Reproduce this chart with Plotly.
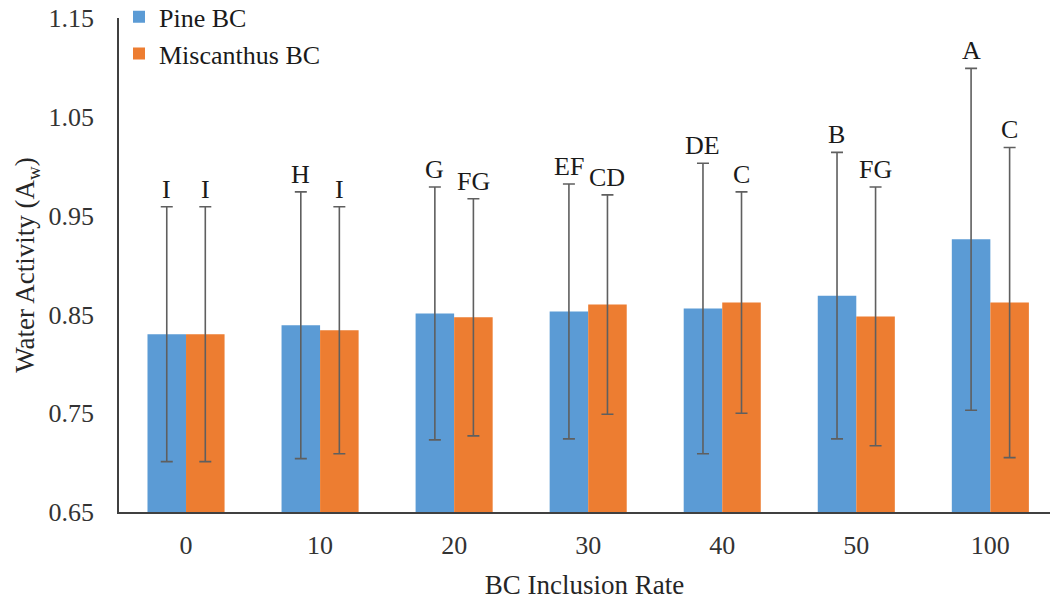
import plotly.graph_objects as go

# BC inclusion rates (%)
categories = ["0", "10", "20", "30", "40", "50", "100"]

# Mean water activity and standard deviation per series
pine_mean = [0.830, 0.839, 0.851, 0.853, 0.856, 0.869, 0.926]
pine_sd = [0.129, 0.135, 0.128, 0.129, 0.147, 0.145, 0.173]
misc_mean = [0.830, 0.834, 0.847, 0.860, 0.862, 0.848, 0.862]
misc_sd = [0.129, 0.125, 0.120, 0.111, 0.112, 0.131, 0.157]

# Significance letters
pine_letters = ["I", "H", "G", "EF", "DE", "B", "A"]
misc_letters = ["I", "I", "FG", "CD", "C", "FG", "C"]

y_ticks = [0.65, 0.75, 0.85, 0.95, 1.05, 1.15]

BLUE = "#5B9BD5"
ORANGE = "#ED7D31"
ERR = "#5f5f5f"
FONT = "Liberation Serif"

idx = list(range(len(categories)))

fig = go.Figure()
fig.add_trace(go.Bar(
    name="Pine BC", x=idx, y=pine_mean, marker_color=BLUE,
    marker_line_width=0,
    error_y=dict(type="data", array=pine_sd, visible=True,
                 color=ERR, thickness=1.6, width=6),
))
fig.add_trace(go.Bar(
    name="Miscanthus BC", x=idx, y=misc_mean, marker_color=ORANGE,
    marker_line_width=0,
    error_y=dict(type="data", array=misc_sd, visible=True,
                 color=ERR, thickness=1.6, width=6),
))

# Letters above each error bar
half = 19.3
for i, m, s, lab in zip(idx, pine_mean, pine_sd, pine_letters):
    fig.add_annotation(x=i, y=m + s, text=lab, showarrow=False,
                       xshift=-half, yshift=1, yanchor="bottom",
                       font=dict(family=FONT, size=26, color="#1a1a1a"))
for i, m, s, lab in zip(idx, misc_mean, misc_sd, misc_letters):
    fig.add_annotation(x=i, y=m + s, text=lab, showarrow=False,
                       xshift=half, yshift=1, yanchor="bottom",
                       font=dict(family=FONT, size=26, color="#1a1a1a"))

fig.update_layout(
    width=1050, height=600,
    margin=dict(l=119, r=0, t=18, b=88, autoexpand=False),
    paper_bgcolor="white", plot_bgcolor="white",
    barmode="group", bargap=0.425, bargroupgap=0,
    font=dict(family=FONT, size=26, color="#262626"),
    showlegend=True,
    legend=dict(x=0.0, y=1.05, xanchor="left", yanchor="top",
                bgcolor="rgba(0,0,0,0)",
                font=dict(family=FONT, size=26, color="#1a1a1a"),
                itemwidth=30, tracegroupgap=0),
    xaxis=dict(
        range=[-0.5, 6.445], tickvals=idx, ticktext=categories,
        showline=True, linecolor="#404040", linewidth=1.5,
        showgrid=False, zeroline=False, ticks="", ticklabelstandoff=9,
        tickfont=dict(family=FONT, size=26, color="#333333"),
        title=dict(text="BC Inclusion Rate",
                   font=dict(family=FONT, size=27, color="#262626"),
                   standoff=18),
    ),
    yaxis=dict(
        range=[0.65, 1.15], tickvals=y_ticks, tickformat=".2f",
        showline=True, linecolor="#404040", linewidth=1.5,
        showgrid=False, zeroline=False, ticks="", ticklabelstandoff=18,
        tickfont=dict(family=FONT, size=26, color="#333333"),
        title=dict(text="Water Activity (A<sub>w</sub>)",
                   font=dict(family=FONT, size=27, color="#262626"),
                   standoff=6),
    ),
)

fig.write_html("out.html")
